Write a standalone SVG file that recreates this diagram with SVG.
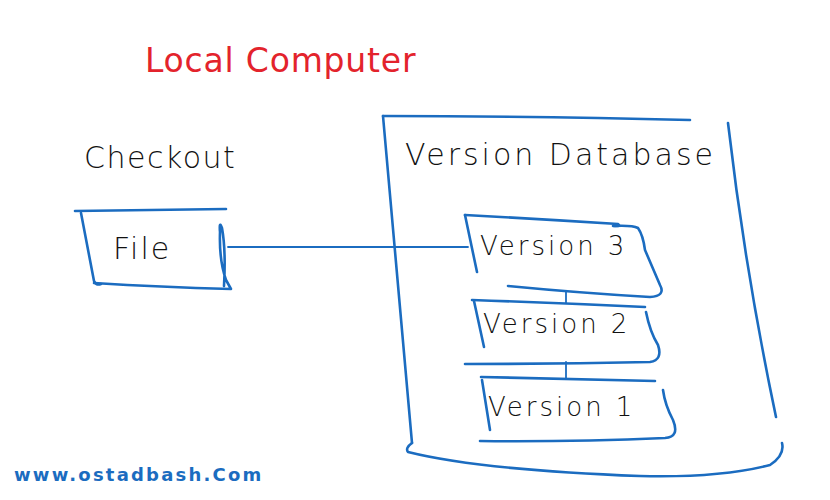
<svg xmlns="http://www.w3.org/2000/svg" width="830" height="500" viewBox="0 0 830 500">
<defs>
<style>
.ln{fill:none;stroke:#1b6cc0;stroke-width:2.6;stroke-linecap:round;stroke-linejoin:round}
.thin{fill:none;stroke:#1b6cc0;stroke-width:1.8;stroke-linecap:round}
.hw{font-family:"DejaVu Sans","Liberation Sans",sans-serif;fill:#111;font-weight:300}
</style>
</defs>
<rect width="830" height="500" fill="#fff"/>
<g id="title">
<text x="145" y="72" font-family="'DejaVu Sans','Liberation Sans',sans-serif" font-size="33" fill="#e3232c" letter-spacing="0.8">Local Computer</text>
</g>
<g id="checkout">
<text class="hw" x="84" y="168" font-size="30" letter-spacing="1.5">Checkout</text>
</g>
<g id="file">
<path class="ln" d="M75,211 L226,209"/>
<path class="ln" d="M81,213 L94,281 Q96,286 101,284"/>
<path class="ln" d="M94,283 Q160,287 231,289 L226,280 Q219,260 220,232 Q219,220 222,228 Q226,250 224,286"/>
<text class="hw" x="113" y="259" font-size="30" letter-spacing="2">File</text>
</g>
<g id="database">
<path class="ln" d="M383,116 Q530,116 690,120"/>
<path class="ln" d="M383,116 L412,443"/>
<path class="ln" d="M728,123 Q745,270 776,417"/>
<path class="ln" d="M412,443 Q405,448 408,452 Q480,470 640,476 Q720,478 770,465 Q785,455 782,443"/>
<text class="hw" x="405" y="165" font-size="30" letter-spacing="3">Version Database</text>
</g>
<g id="v3">
<path class="ln" d="M465,215 Q540,219 618,224 Q622,227 613,226 Q632,225 638,228 Q643,235 645,250 L660,285 Q666,296 650,297 Q580,293 508,286"/>
<path class="ln" d="M465,215 L477,272"/>
<text class="hw" x="480" y="255" font-size="26" letter-spacing="3">Version 3</text>
</g>
<g id="v2">
<path class="ln" d="M472,300 Q560,303 645,307"/>
<path class="ln" d="M474,301 L484,347"/>
<path class="ln" d="M646,312 Q650,332 658,345 Q663,360 650,362 Q560,364 465,364"/>
<text class="hw" x="483" y="333" font-size="26" letter-spacing="3">Version  2</text>
</g>
<g id="v1">
<path class="ln" d="M481,377 Q570,379 655,381"/>
<path class="ln" d="M482,380 L490,430"/>
<path class="ln" d="M663,390 Q665,405 673,420 Q680,437 665,438 Q570,442 480,441"/>
<text class="hw" x="488" y="416" font-size="26" letter-spacing="3">Version  1</text>
</g>
<g id="connectors">
<path class="thin" d="M228,247 L468,247"/>
<path class="thin" d="M566,291 L566,303"/>
<path class="thin" d="M566,362 L566,378"/>
</g>
<g id="footer">
<text x="14" y="481" font-family="'DejaVu Sans','Liberation Sans',sans-serif" font-size="18" fill="#1b6cc0" font-weight="bold" letter-spacing="2.2">www.ostadbash.Com</text>
</g>
</svg>
